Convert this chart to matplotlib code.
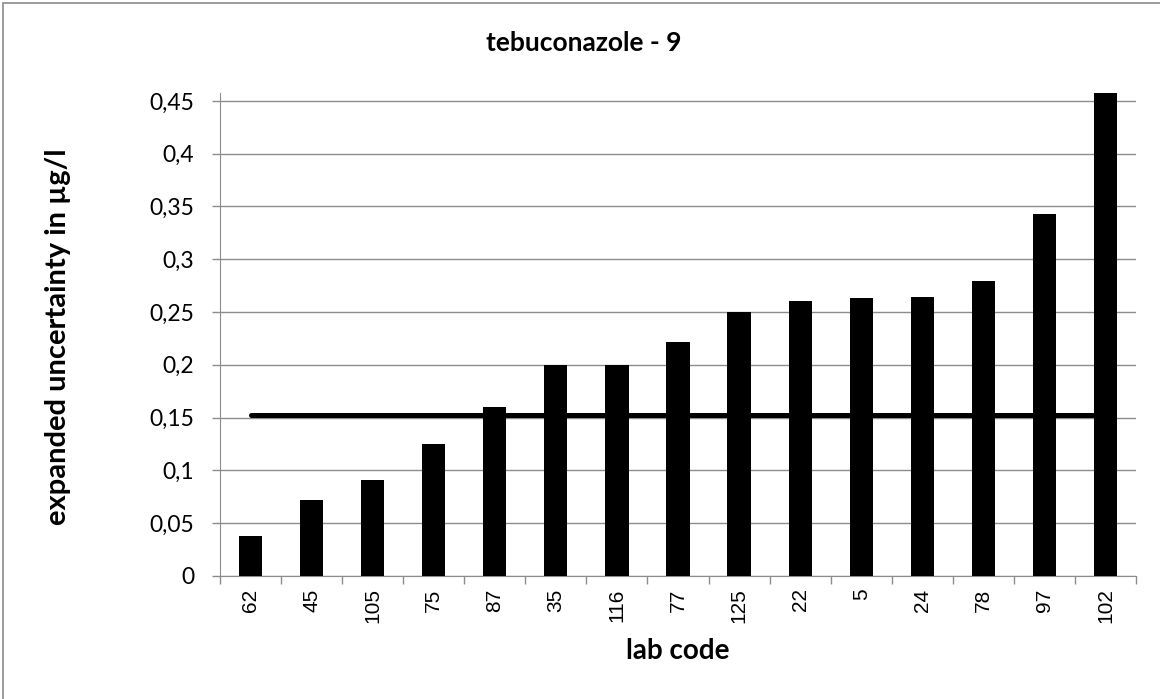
import matplotlib
matplotlib.use("Agg")
import matplotlib.pyplot as plt
from matplotlib.patches import Rectangle
from matplotlib.ticker import FixedLocator, FuncFormatter

labs = ["62", "45", "105", "75", "87", "35", "116", "77", "125", "22", "5", "24", "78", "97", "102"]
uncert = [0.038, 0.072, 0.091, 0.125, 0.160, 0.200, 0.200, 0.222, 0.250, 0.260,
          0.263, 0.264, 0.279, 0.343, 0.460]
ref_level = 0.1525
yticks = [0, 0.05, 0.1, 0.15, 0.2, 0.25, 0.3, 0.35, 0.4, 0.45]

grey = "#8c8c8c"
fig = plt.figure(figsize=(11.6, 6.99), dpi=100)
ax = fig.add_axes([0.1897, 0.176, 0.7896, 0.691])

x = list(range(len(labs)))
ax.plot([x[0], x[-1]], [ref_level] * 2, color="black", lw=3.6,
        solid_capstyle="round", zorder=2)
ax.bar(x, uncert, width=0.38, color="black", zorder=3)

ax.set_xlim(-0.5, len(labs) - 0.5)
ax.set_ylim(0, 0.4575)
ax.set_yticks(yticks)
ax.yaxis.set_major_formatter(FuncFormatter(lambda v, p: f"{v:g}".replace(".", ",")))
ax.yaxis.grid(True, color=grey, lw=1, zorder=0)
ax.set_axisbelow(True)

ax.set_xticks(x)
ax.set_xticklabels(labs, rotation=90, family="Liberation Sans", fontsize=15)
ax.xaxis.set_minor_locator(FixedLocator([i - 0.5 for i in range(len(labs) + 1)]))
ax.tick_params(axis="x", which="major", length=0, pad=9)
ax.tick_params(axis="x", which="minor", length=5.5, color=grey, width=1)
ax.tick_params(axis="y", length=5.5, color=grey, width=1, labelsize=16.5, pad=13)
for t in ax.get_yticklabels():
    t.set_family("Lato")

for s in ["top", "right"]:
    ax.spines[s].set_visible(False)
for s in ["left", "bottom"]:
    ax.spines[s].set_color(grey)

fig.text(0.503, 0.938, "tebuconazole - 9", ha="center", va="center",
         family="Lato", fontweight="bold", fontsize=19)
fig.text(0.584, 0.069, "lab code", ha="center", va="center",
         family="Lato", fontweight="bold", fontsize=20)
fig.text(0.050, 0.518, "expanded uncertainty in µg/l", ha="center", va="center",
         rotation=90, family="Lato", fontweight="bold", fontsize=21)

fig.patches.append(Rectangle((3 / 1160, -0.1), 1.2, 1 - 3 / 699 + 0.1,
                             transform=fig.transFigure, fill=False,
                             edgecolor=grey, lw=1.2))

fig.savefig("out.png", dpi=100)
